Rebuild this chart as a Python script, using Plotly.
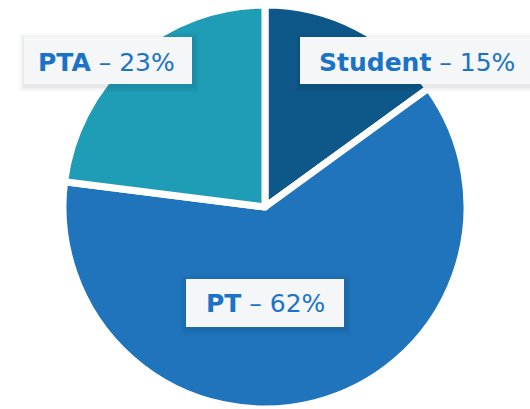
import plotly.graph_objects as go

labels = ["Student", "PT", "PTA"]
values = [15, 62, 23]
colors = ["#0e5889", "#1f74bb", "#1f9cb6"]

W, H = 530, 409

fig = go.Figure(go.Pie(
    labels=labels, values=values, sort=False, direction="clockwise", rotation=0,
    marker=dict(colors=colors, line=dict(color="white", width=7)),
    textinfo="none", hoverinfo="label+percent",
    domain=dict(x=[0, 1], y=[0, 1 - 5 / H]),
))

# label boxes (pixel positions) -> paper coords
boxes = {
    "PTA": (24, 37, 192, 84),
    "Student": (300, 37, 531, 84),
    "PT": (186, 279, 344, 327),
}
text_pos = {"PTA": (106, 62), "Student": (417, 62), "PT": (265, 303)}

def px(x):
    return x / W

def py(y):
    return 1 - y / H

shapes = []
annotations = []
for lab, val in zip(labels, values):
    x0, y0, x1, y1 = boxes[lab]
    for d, a in [(6, 0.02), (4, 0.03), (2, 0.04)]:
        shapes.append(dict(type="rect", xref="paper", yref="paper", layer="above",
                           x0=px(x0 - d + 1), x1=px(x1 + d + 1), y0=py(y0 - d + 2), y1=py(y1 + d + 2),
                           line=dict(width=0), fillcolor=f"rgba(0,0,0,{a})"))
    shapes.append(dict(type="rect", xref="paper", yref="paper", layer="above",
                       x0=px(x0), x1=px(x1), y0=py(y0), y1=py(y1),
                       line=dict(width=0), fillcolor="#f4f6f7"))
    tx, ty = text_pos[lab]
    annotations.append(dict(
        xref="paper", yref="paper", x=px(tx), y=py(ty), xanchor="center", yanchor="middle",
        showarrow=False, text=f"<b>{lab}</b> – {val}%",
        font=dict(family="DejaVu Sans", size=25, color="#1a73c6"),
    ))

fig.update_layout(
    width=W, height=H, margin=dict(l=0, r=0, t=0, b=0),
    paper_bgcolor="white", plot_bgcolor="white", showlegend=False,
    shapes=shapes, annotations=annotations,
)

fig.write_html("out.html", config={"displayModeBar": False})
with open("out.html", encoding="utf-8") as f:
    html = f.read()
html = html.replace("<body>", '<body style="margin:0;padding:0;overflow:hidden">', 1)
with open("out.html", "w", encoding="utf-8") as f:
    f.write(html)
